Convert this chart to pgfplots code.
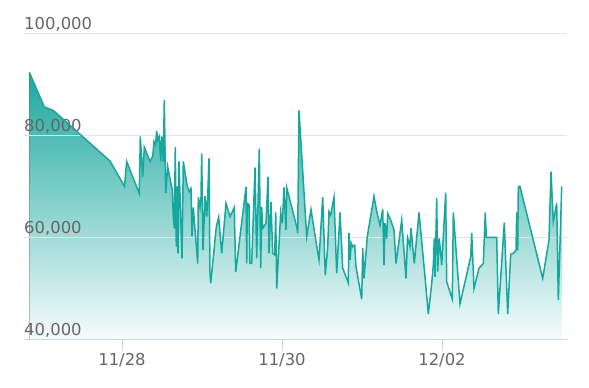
\documentclass[border=0pt]{standalone}
\usepackage{pgfplots}
\pgfplotsset{compat=1.18}
\usepgfplotslibrary{fillbetween}
\usepackage{pgfplotstable}
\usepackage{fontspec}
\setmainfont{DejaVu Sans}
\definecolor{lineC}{RGB}{20,168,158}
\definecolor{fillTop}{RGB}{26,168,158}
\definecolor{fillBot}{RGB}{246,252,252}
\definecolor{gridC}{RGB}{228,228,228}
\definecolor{axisC}{RGB}{204,214,235}
\definecolor{labC}{RGB}{102,102,102}

\pgfplotstableread{
x y
29.3 92500
44.3 85700
53.3 85000
110 75100
124.5 70100
126.7 75000
139.3 68700
140.3 79900
142.7 72000
144.3 77800
150 75000
152.7 76000
154 78900
155.5 78300
156.7 81000
157.7 79200
159.3 79900
160.7 75000
161.7 79900
163.3 75000
164.3 87100
165.7 68800
167.7 74000
172.3 69400
173.3 64200
174.3 61900
175.3 77800
176.3 58300
177.3 70100
178 57000
179 75000
182 56000
183.3 75000
187.3 70100
189.3 69100
191 69700
192 60300
193.3 66000
197.7 55000
198.3 68000
200 66000
201 68000
201.7 76600
203 57600
205 68200
206.7 64200
207.7 68200
209 75600
210 53100
210.7 51100
214 57600
216.3 62200
218.7 64100
221.7 57000
226 66800
230 64200
234.3 66000
235.7 53300
246 70000
246.7 55000
247.3 66800
249 66500
250 55000
251.7 55000
255 73800
256.7 56000
259.3 77500
260.7 54100
261.7 66100
262.7 61900
266 62900
268 72000
269 57000
271 67100
272.7 57000
274.7 56700
275.7 65000
276.7 50100
280.7 65000
282.3 62900
284 69900
286 61600
286.7 69900
296.7 62200
297.7 60900
299 85000
306.7 60300
311 65600
316 59300
319 55700
322.7 68000
325.3 52700
327.7 58300
329 65200
330.7 64500
334 68000
336.7 53100
340 65000
342.7 54100
348.3 51200
349 61000
350 55700
351.3 59000
352.7 58300
354.7 58600
356 54400
361.7 48000
362.7 58000
364 52100
367.3 60300
374 68200
376.7 65200
380 62500
382.7 65700
384 54700
385 62900
386.7 59900
387.7 64800
390 63900
394 61600
396 55000
401.7 63500
406 52100
407.5 60100
410 58300
411 61900
414.3 55000
419 65000
425 52400
428.3 45100
431.7 51100
433.3 54700
434.3 59900
435 52400
436.7 67800
437.7 53400
439.3 59900
441.7 54700
445.7 68900
446.7 51400
452.3 48000
453.3 65000
460 47100
470.7 56300
471.7 61000
474 50100
479 54100
483.3 55000
485.3 65000
486.3 60100
496.7 60100
498.3 45100
504.3 63000
507.7 45100
510.7 56800
513.3 57000
516 57600
516.7 65000
517.7 57600
518.3 70100
520 70100
542.7 52100
549 59600
551 73000
553.3 63200
556.7 66800
558.3 47800
561.7 70100
}\data

\begin{document}
\begin{tikzpicture}
\begin{axis}[
  set layers,
  scale only axis, width=543bp, height=306bp,
  xmin=24, xmax=567, ymin=40000, ymax=100000,
  axis x line*=bottom, axis y line*=left,
  x axis line style={draw=axisC, line width=1bp, -},
  y axis line style={draw=none},
  xtick={122,282,442}, xticklabels={11/28,11/30,12/02},
  ytick={40000,60000,80000,100000},
  scaled y ticks=false,
  ymajorgrids, grid style={draw=gridC, line width=1bp},
  xtick align=outside, ytick align=inside,
  major tick length=10bp,
  xtick style={draw=axisC, line width=1bp},
  ytick style={draw=none},
  /pgf/number format/assume math mode=true,
  yticklabel style={/pgf/number format/fixed, /pgf/number format/1000 sep={,},
    anchor=base west, inner sep=0pt, xshift=0bp, yshift=4bp,
    font=\fontsize{16.5}{19}\selectfont, text=labC},
  xticklabel style={font=\fontsize{16.5}{19}\selectfont, text=labC, yshift=0bp},
]
\addplot[name path=A, draw=none, forget plot] table {\data};
\path[name path=B] (axis cs:29.3,40000) -- (axis cs:561.7,40000);
\addplot[top color=fillTop, bottom color=fillBot, draw=none] fill between[of=A and B, on layer=axis background];
\addplot[draw=lineC, line width=1.5bp, mark=none] table {\data};
\end{axis}
\path ([shift={(-24bp,-48bp)}]current axis.south west) rectangle ([shift={(22bp,34bp)}]current axis.north east);
\end{tikzpicture}
\end{document}
